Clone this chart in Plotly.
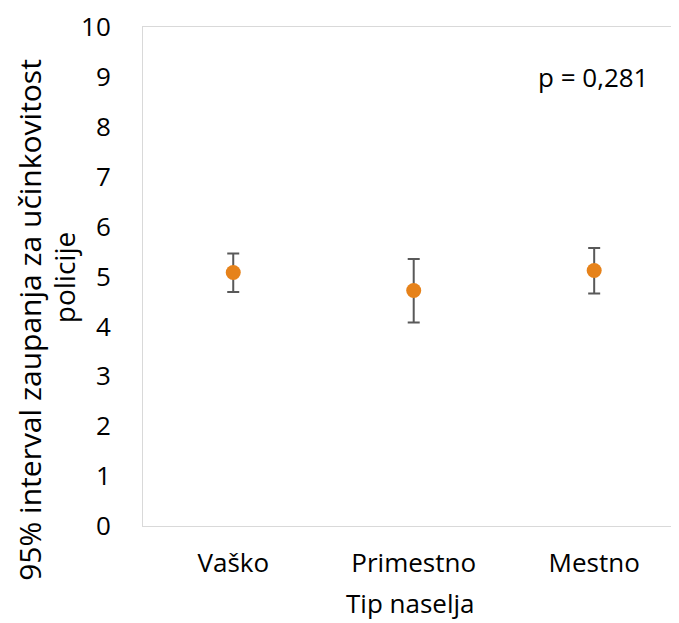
import plotly.graph_objects as go

categories = ["Vaško", "Primestno", "Mestno"]
means = [5.08, 4.72, 5.12]
upper = [5.46, 5.35, 5.57]
lower = [4.69, 4.08, 4.66]
y_ticks = [0, 1, 2, 3, 4, 5, 6, 7, 8, 9, 10]

err_plus = [u - m for u, m in zip(upper, means)]
err_minus = [m - l for m, l in zip(means, lower)]
xpos = list(range(len(categories)))

FONT = "Open Sans"
FS = 26
TXT = "#000000"

fig = go.Figure()
fig.add_trace(go.Scatter(
    x=xpos, y=means, mode="markers",
    marker=dict(size=15, color="#E6821A", line=dict(width=0)),
    error_y=dict(type="data", symmetric=False, array=err_plus, arrayminus=err_minus,
                 color="#595959", thickness=2, width=6),
    showlegend=False,
))

# page body has an 8px margin, so the figure is shrunk to keep the same layout
fig.update_layout(
    width=671, height=615,
    margin=dict(l=135, r=0, t=13, b=97),
    paper_bgcolor="white", plot_bgcolor="white",
    font=dict(family=FONT, size=FS, color=TXT),
    xaxis=dict(
        range=[-0.5, 2.47], tickvals=xpos, ticktext=categories,
        showgrid=False, zeroline=False, showline=True, mirror=True,
        linecolor="#D9D9D9", linewidth=1, ticks="", ticklabelstandoff=14,
        tickfont=dict(family=FONT, size=FS, color=TXT),
    ),
    yaxis=dict(
        range=[0, 10], tickvals=y_ticks, ticktext=[str(v) for v in y_ticks],
        showgrid=False, zeroline=False, showline=True, mirror=False,
        linecolor="#D9D9D9", linewidth=1, ticks="", ticklabelstandoff=26,
        ticklabeloverflow="allow",
        tickfont=dict(family=FONT, size=FS, color=TXT),
    ),
    annotations=[
        dict(text="95% interval zaupanja za učinkovitost", xref="paper", yref="paper",
             x=-0.212, y=0.414, xanchor="center", yanchor="middle", textangle=-90,
             showarrow=False, font=dict(family=FONT, size=30, color=TXT)),
        dict(text="policije", xref="paper", yref="paper",
             x=-0.147, y=0.497, xanchor="center", yanchor="middle", textangle=-90,
             showarrow=False, font=dict(family=FONT, size=28, color=TXT)),
        dict(text="Tip naselja", xref="paper", yref="paper",
             x=0.499, y=-0.155, xanchor="center", yanchor="middle",
             showarrow=False, font=dict(family=FONT, size=FS, color=TXT)),
        dict(text="p = 0,281", xref="paper", yref="paper",
             x=0.8396, y=0.899, xanchor="center", yanchor="middle",
             showarrow=False, font=dict(family=FONT, size=FS, color=TXT)),
    ],
)

fig.write_html("out.html")
